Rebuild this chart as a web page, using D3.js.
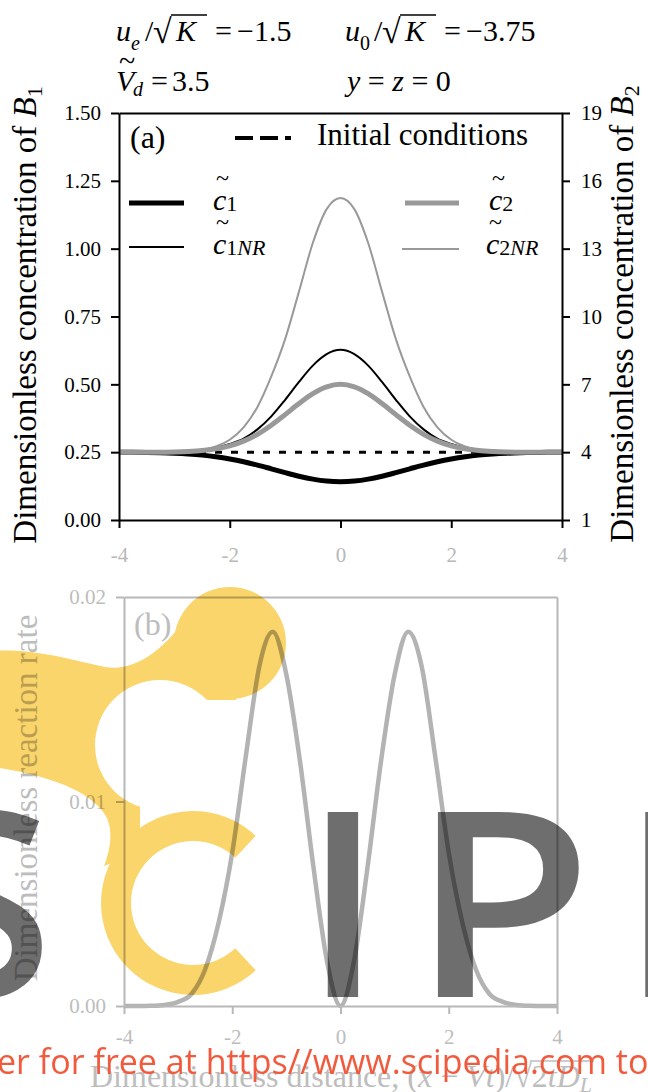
<!DOCTYPE html>
<html><head><meta charset="utf-8">
<script src="https://cdn.jsdelivr.net/npm/d3@7"></script>
<style>
html,body{margin:0;padding:0;background:#fff;}
svg{display:block;}
</style></head><body>
<svg id="chart" width="648" height="1092"></svg>
<script>
// ---------- data ----------
const xValues = [-4,-3.75,-3.5,-3.25,-3,-2.75,-2.5,-2.25,-2,-1.75,-1.5,-1.25,-1,-0.75,-0.5,-0.25,0,
                 0.25,0.5,0.75,1,1.25,1.5,1.75,2,2.25,2.5,2.75,3,3.25,3.5,3.75,4];
// panel (a), left axis (B1)
const c1 = [0.250,0.2495,0.2488,0.2478,0.246,0.2432,0.2391,0.233,0.2249,0.2147,0.2024,0.1886,0.1746,0.1614,0.1506,0.1435,0.141,
            0.1435,0.1506,0.1614,0.1746,0.1886,0.2024,0.2147,0.2249,0.233,0.2391,0.2432,0.246,0.2478,0.2488,0.2495,0.250];
const c1NR = [0.250,0.250,0.250,0.250,0.251,0.253,0.258,0.266,0.280,0.300,0.334,0.382,0.443,0.509,0.569,0.611,0.627,
              0.611,0.569,0.509,0.443,0.382,0.334,0.300,0.280,0.266,0.258,0.253,0.251,0.250,0.250,0.250,0.250];
// panel (a), right axis (B2)
const c2 = [4.00,4.00,4.00,4.00,4.01,4.03,4.07,4.15,4.28,4.49,4.79,5.19,5.66,6.15,6.59,6.89,7.00,
            6.89,6.59,6.15,5.66,5.19,4.79,4.49,4.28,4.15,4.07,4.03,4.01,4.00,4.00,4.00,4.00];
const c2NR = [4.00,4.00,4.00,4.00,4.01,4.04,4.10,4.25,4.55,5.10,6.00,7.35,9.00,11.10,13.25,14.75,15.24,
              14.75,13.25,11.10,9.00,7.35,6.00,5.10,4.55,4.25,4.10,4.04,4.01,4.00,4.00,4.00,4.00];
const initialX = [-4, 4];
const initialC = [0.25, 0.25];
// panel (b)
const rate = [0,0,0.00001,0.00005,0.0002,0.0006,0.0018,0.0041,0.0075,0.0122,0.0166,0.0183,0.0162,0.0120,0.0068,0.0022,0,
              0.0022,0.0068,0.0120,0.0162,0.0183,0.0166,0.0122,0.0075,0.0041,0.0018,0.0006,0.0002,0.00005,0.00001,0,0];
// ticks
const xTicks = [-4,-2,0,2,4];
const leftTicks = [0,0.25,0.5,0.75,1.0,1.25,1.5];
const rightTicks = [1,4,7,10,13,16,19];
const rateTicks = [0,0.01,0.02];

// ---------- setup ----------
const W = 648, H = 1092;
const SERIF = "'Liberation Serif','Times New Roman',serif";
const SANS = "'Open Sans','Noto Sans',sans-serif";
const svg = d3.select("#chart");
svg.append("rect").attr("width", W).attr("height", H).attr("fill", "#fff");

function styleAxis(g, lineColor, textColor, fs) {
  g.attr("font-family", SERIF).attr("font-size", fs);
  g.selectAll("path.domain").attr("stroke", lineColor).attr("stroke-width", 2);
  g.selectAll(".tick line").attr("stroke", lineColor).attr("stroke-width", 2);
  g.selectAll(".tick text").attr("fill", textColor);
}
const fmtInt = d => String(d);

// ---------- panel (a) ----------
const xa = d3.scaleLinear().domain([-4, 4]).range([119, 562]);
const yL = d3.scaleLinear().domain([0, 1.5]).range([520, 113]);
const yR = d3.scaleLinear().domain([1, 19]).range([520, 113]);

const gA = svg.append("g");
const lineL = d3.line().x((d, i) => xa(xValues[i])).y(d => yL(d)).curve(d3.curveMonotoneX);
const lineR = d3.line().x((d, i) => xa(xValues[i])).y(d => yR(d)).curve(d3.curveMonotoneX);
gA.append("path").datum(initialC)
  .attr("d", d3.line().x((d, i) => xa(initialX[i])).y(d => yL(d)))
  .attr("fill", "none").attr("stroke", "#000").attr("stroke-width", 3).attr("stroke-dasharray", "7,9");
gA.append("path").datum(c1NR).attr("d", lineL).attr("fill", "none").attr("stroke", "#000").attr("stroke-width", 2);
gA.append("path").datum(c2NR).attr("d", lineR).attr("fill", "none").attr("stroke", "#999").attr("stroke-width", 2);
gA.append("path").datum(c1).attr("d", lineL).attr("fill", "none").attr("stroke", "#000").attr("stroke-width", 5);
gA.append("path").datum(c2).attr("d", lineR).attr("fill", "none").attr("stroke", "#999").attr("stroke-width", 5);

gA.append("g").attr("transform", "translate(119,0)")
  .call(d3.axisLeft(yL).tickValues(leftTicks).tickSize(8).tickSizeOuter(0).tickPadding(10).tickFormat(d3.format(".2f")))
  .call(g => styleAxis(g, "#000", "#000", 21));
gA.append("g").attr("transform", "translate(562,0)")
  .call(d3.axisRight(yR).tickValues(rightTicks).tickSize(8).tickSizeOuter(0).tickPadding(11).tickFormat(fmtInt))
  .call(g => styleAxis(g, "#000", "#000", 21));
gA.append("g").attr("transform", "translate(0,520)")
  .call(d3.axisBottom(xa).tickValues(xTicks).tickSize(8).tickSizeOuter(0).tickPadding(19).tickFormat(fmtInt))
  .call(g => styleAxis(g, "#000", "#b8b8b8", 21));
gA.append("g").attr("transform", "translate(0,113)")
  .call(d3.axisTop(xa).tickValues([]).tickSizeOuter(0))
  .call(g => styleAxis(g, "#000", "#000", 21));

gA.append("text").attr("x", 130).attr("y", 148).attr("font-family", SERIF).attr("font-size", 32).text("(a)");
gA.append("line").attr("x1", 235).attr("x2", 291).attr("y1", 138).attr("y2", 138)
  .attr("stroke", "#000").attr("stroke-width", 4).attr("stroke-dasharray", "18,7");
gA.append("text").attr("x", 317).attr("y", 145).attr("font-family", SERIF).attr("font-size", 31).text("Initial conditions");

const legendItems = [
  {x1: 129, x2: 184, y: 203, w: 5, col: "#000", tx: 213, ty: 210, sub: "1", nr: ""},
  {x1: 129, x2: 184, y: 247, w: 2, col: "#000", tx: 213, ty: 254, sub: "1", nr: "NR"},
  {x1: 405, x2: 459, y: 203, w: 5, col: "#999", tx: 489, ty: 210, sub: "2", nr: ""},
  {x1: 402, x2: 459, y: 249, w: 2, col: "#999", tx: 486, ty: 254, sub: "2", nr: "NR"}
];
legendItems.forEach(d => {
  gA.append("line").attr("x1", d.x1).attr("x2", d.x2).attr("y1", d.y).attr("y2", d.y)
    .attr("stroke", d.col).attr("stroke-width", d.w);
  const t = gA.append("text").attr("x", d.tx).attr("y", d.ty).attr("font-family", SERIF).attr("font-size", 30);
  t.append("tspan").attr("font-style", "italic").text("c");
  t.append("tspan").attr("font-size", 22).attr("dy", 1).text(d.sub);
  if (d.nr) t.append("tspan").attr("font-size", 22).attr("font-style", "italic").text(d.nr);
  gA.append("text").attr("x", d.tx + 3).attr("y", d.ty - 24).attr("font-family", SERIF).attr("font-size", 24).text("~");
});

function rotTitle(parent, x, y, main, sym, sub, color) {
  const t = parent.append("text").attr("transform", `translate(${x},${y}) rotate(-90)`)
    .attr("text-anchor", "middle").attr("font-family", SERIF).attr("font-size", 33).attr("fill", color);
  t.append("tspan").text(main);
  if (sym) {
    t.append("tspan").attr("font-style", "italic").text(sym);
    t.append("tspan").attr("font-size", 22).attr("dy", 6).text(sub);
  }
  return t;
}
rotTitle(gA, 36, 315, "Dimensionless concentration of ", "B", "1", "#000");
rotTitle(gA, 633, 314, "Dimensionless concentration of ", "B", "2", "#000");

// header
const hdr = svg.append("g").attr("font-family", SERIF).attr("font-size", 30).attr("fill", "#000");
function sqrtGroup(x0, subTxt, subItalic, value) {
  hdr.append("text").attr("x", x0).attr("y", 41).attr("font-style", "italic").text("u");
  hdr.append("text").attr("x", x0 + 15).attr("y", 50).attr("font-size", 20).attr("font-style", subItalic ? "italic" : "normal").text(subTxt);
  hdr.append("text").attr("x", x0 + 29).attr("y", 41).text("/");
  hdr.append("text").attr("x", x0 + 37).attr("y", 43).attr("font-size", 34).text("√");
  hdr.append("text").attr("x", x0 + 60).attr("y", 41).attr("font-style", "italic").text("K");
  hdr.append("line").attr("x1", x0 + 55).attr("x2", x0 + 91).attr("y1", 15).attr("y2", 15).attr("stroke", "#000").attr("stroke-width", 1.5);
  hdr.append("text").attr("x", x0 + 99).attr("y", 41).text("=");
  hdr.append("text").attr("x", x0 + 121).attr("y", 41).text(value);
}
sqrtGroup(116, "e", true, "−1.5");
sqrtGroup(345, "0", false, "−3.75");
hdr.append("text").attr("x", 116).attr("y", 91).attr("font-style", "italic").text("V");
hdr.append("text").attr("x", 119).attr("y", 71).attr("font-size", 30).text("~");
hdr.append("text").attr("x", 133).attr("y", 96).attr("font-size", 20).attr("font-style", "italic").text("d");
hdr.append("text").attr("x", 151).attr("y", 91).text("=");
hdr.append("text").attr("x", 172).attr("y", 91).text("3.5");
const yz = hdr.append("text").attr("x", 347).attr("y", 91);
yz.append("tspan").attr("font-style", "italic").text("y");
yz.append("tspan").text(" = ");
yz.append("tspan").attr("font-style", "italic").text("z");
yz.append("tspan").text(" = 0");

// ---------- panel (b) ----------
const GREY_LINE = "#b8b8b8", GREY_TEXT = "#bdbdbd";
const xb = d3.scaleLinear().domain([-4, 4]).range([124, 557]);
const yb = d3.scaleLinear().domain([0, 0.02]).range([1006, 597]);
const gB = svg.append("g");
gB.append("path").datum(rate)
  .attr("d", d3.line().x((d, i) => xb(xValues[i])).y(d => yb(d)).curve(d3.curveMonotoneX))
  .attr("fill", "none").attr("stroke", "#b3b3b3").attr("stroke-width", 4.5);
gB.append("g").attr("transform", "translate(124,0)")
  .call(d3.axisLeft(yb).tickValues(rateTicks).tickSize(8).tickSizeOuter(0).tickPadding(10).tickFormat(d3.format(".2f")))
  .call(g => styleAxis(g, GREY_LINE, GREY_TEXT, 21));
gB.append("g").attr("transform", "translate(557,0)")
  .call(d3.axisRight(yb).tickValues([]).tickSizeOuter(0))
  .call(g => styleAxis(g, GREY_LINE, GREY_TEXT, 21));
gB.append("g").attr("transform", "translate(0,1006)")
  .call(d3.axisBottom(xb).tickValues(xTicks).tickSize(8).tickSizeOuter(0).tickPadding(15).tickFormat(fmtInt))
  .call(g => styleAxis(g, GREY_LINE, GREY_TEXT, 21));
gB.append("g").attr("transform", "translate(0,597)")
  .call(d3.axisTop(xb).tickValues([]).tickSizeOuter(0))
  .call(g => styleAxis(g, GREY_LINE, GREY_TEXT, 21));
gB.append("text").attr("x", 134).attr("y", 635).attr("font-family", SERIF).attr("font-size", 32).attr("fill", GREY_TEXT).text("(b)");
rotTitle(gB, 37, 798, "Dimensionless reaction rate", null, null, GREY_TEXT);

const xt = gB.append("text").attr("x", 341).attr("y", 1087).attr("text-anchor", "middle")
  .attr("font-family", SERIF).attr("font-size", 32).attr("fill", GREY_TEXT);
xt.append("tspan").text("Dimensionless distance, (");
xt.append("tspan").attr("font-style", "italic").text("x");
xt.append("tspan").text(" − ");
xt.append("tspan").attr("font-style", "italic").text("Vt");
xt.append("tspan").text(")/√");
xt.append("tspan").text("2");
xt.append("tspan").attr("font-style", "italic").text("tD");
xt.append("tspan").attr("font-style", "italic").attr("font-size", 22).attr("dy", 5).text("L");
(function () {
  const node = xt.node();
  const n = node.getNumberOfChars();
  const iS = node.textContent.indexOf("√");
  const s = node.getEndPositionOfChar(iS).x;
  const e = node.getEndPositionOfChar(n - 1).x;
  gB.append("line").attr("x1", s - 2).attr("x2", e + 2).attr("y1", 1061).attr("y2", 1061)
    .attr("stroke", GREY_TEXT).attr("stroke-width", 1.5);
})();

// ---------- watermark ----------
const defs = svg.append("defs");
const mask = defs.append("mask").attr("id", "hole").attr("maskUnits", "userSpaceOnUse")
  .attr("x", 0).attr("y", 0).attr("width", W).attr("height", H);
mask.append("rect").attr("width", W).attr("height", H).attr("fill", "#fff");
mask.append("circle").attr("cx", 160).attr("cy", 745).attr("r", 65).attr("fill", "#000");

const wm = svg.append("g").style("mix-blend-mode", "multiply");
const logo = wm.append("g").attr("mask", "url(#hole)").attr("fill", "#fad56c");
logo.append("circle").attr("cx", 230).attr("cy", 643).attr("r", 56);
logo.append("path").attr("d",
  "M -20,652 C 30,646 70,660 105,667 C 135,672 165,650 190,612 L 240,640 L 236,700 L 200,700 " +
  "L 150,700 L 140,760 L 140,830 L 120,860 L 104,866 C 112,845 112,830 107,818 C 95,795 60,778 0,768 L -20,768 Z");
logo.append("path").attr("transform", "translate(193,903)")
  .attr("d", d3.arc().innerRadius(62).outerRadius(92).startAngle(137 * Math.PI / 180).endAngle(403 * Math.PI / 180)());

const letters = wm.append("g").attr("font-family", SANS).attr("font-weight", 600).attr("font-size", 259).attr("fill", "#6e6e6e");
letters.append("text").attr("x", -18).attr("y", 997).attr("text-anchor", "middle").text("S");
letters.append("text").attr("x", 343).attr("y", 997).attr("text-anchor", "middle").text("I");
letters.append("text").attr("transform", "translate(410,997) scale(1.15,1)").text("P");
letters.append("text").attr("x", 621).attr("y", 997).text("E");

svg.append("text").attr("x", -3).attr("y", 1074).attr("font-family", SANS).attr("font-size", 34)
  .attr("fill", "#f25a3d").text("er for free at https//www.scipedia.com to");
</script>
</body></html>
